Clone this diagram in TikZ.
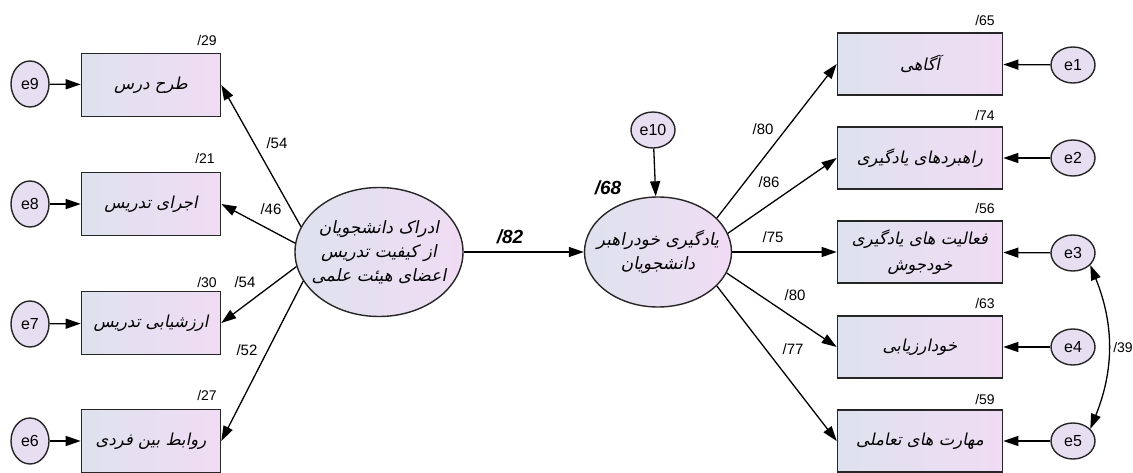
\documentclass[tikz,border=0pt]{standalone}
\usepackage{fontspec}
\setmainfont{Liberation Sans}
\TeXXeTstate=1
\newfontfamily\fafont[Script=Arabic,FakeSlant=0.2]{DejaVu Sans}
\usetikzlibrary{arrows.meta,shapes.geometric}
\newcommand\fa[1]{{\fafont\beginR #1\endR}}
\newcommand\slnum[1]{\mbox{/}\mbox{#1}}
\definecolor{boxL}{RGB}{222,226,238}
\definecolor{boxR}{RGB}{240,220,244}
\definecolor{efill}{RGB}{232,222,242}
\begin{document}
\begin{tikzpicture}[x=1pt,y=-1pt,
  ind/.style={rectangle, draw=black!85, line width=1.6pt, minimum width=139pt, minimum height=63pt,
    left color=boxL, right color=boxR, inner sep=0pt, align=center,
    font=\fontsize{16.5}{26}\selectfont},
  rind/.style={ind, minimum width=165pt, minimum height=62pt},
  errl/.style={ellipse, draw=black!85, line width=1.4pt, fill=efill, inner sep=0pt,
    minimum width=38pt, minimum height=46pt, font=\fontsize{16}{18}\selectfont},
  errr/.style={errl, minimum width=44pt, minimum height=36pt},
  lat/.style={ellipse, draw=black!85, line width=1.4pt, left color=boxL, right color=boxR,
    inner ysep=0pt, align=center, font=\fontsize{17}{24}\selectfont},
  dbl/.style={{Triangle[length=15pt,width=10pt]}-{Triangle[length=15pt,width=10pt]}, line width=1.3pt},
  arr/.style={-{Triangle[length=15pt,width=10pt]}, line width=1.3pt},
  coef/.style={font=\fontsize{15}{17}\selectfont},
  rsq/.style={font=\fontsize{14}{16}\selectfont},
  big/.style={font=\bfseries\itshape\fontsize{19}{21}\selectfont}
]
\useasboundingbox (0,0) rectangle (1133,473);

% left side
\node[ind] (b1) at (151,85)  {\fa{طرح درس}};
\node[ind] (b2) at (151,204) {\fa{اجرای تدریس}};
\node[ind] (b3) at (151,323) {\fa{ارزشیابی تدریس}};
\node[ind] (b4) at (151,441) {\fa{روابط بین فردی}};
\node[errl] (e9) at (30,84)  {e9};
\node[errl] (e8) at (30,204) {e8};
\node[errl] (e7) at (30,324) {e7};
\node[errl] (e6) at (30,441) {e6};
\foreach \e/\b in {e9/b1,e8/b2,e7/b3,e6/b4} \draw[arr] (\e) -- (\b);

\node[lat, inner xsep=-14pt, minimum width=168pt, minimum height=129pt] (L1) at (379,252)
  {\fa{ادراک دانشجویان}\\\fa{از کیفیت تدریس}\\\fa{اعضای هیئت علمی}};
\draw[arr] (L1.162) -- (b1.east);
\draw[arr] (L1.174) -- (b2.east);
\draw[arr] (L1.190) -- (b3.east);
\draw[arr] (L1.201) -- (b4.east);

\node[rsq] (r29) at (207,40)  {\slnum{29}};
\node[rsq] (r21) at (205,158) {\slnum{21}};
\node[rsq] (r30) at (207,282) {\slnum{30}};
\node[rsq] (r27) at (207,395) {\slnum{27}};
\node[coef] (c54a) at (277,143) {\slnum{54}};
\node[coef] (c46)  at (271,209) {\slnum{46}};
\node[coef] (c54b) at (245,282) {\slnum{54}};
\node[coef] (c52)  at (247,350) {\slnum{52}};

% middle
\node[lat, inner xsep=-20pt, minimum width=147pt, minimum height=110pt] (L2) at (658,252)
  {\fa{یادگیری خودراهبر}\\\fa{دانشجویان}};
\draw[arr] (L1.east) -- (L2.west);
\node[big] (c82) at (510,237) {\slnum{82}};
\node[errr] (e10) at (653,130) {e10};
\draw[arr] (e10) -- (L2);
\node[big] (c68) at (608,188) {\slnum{68}};

% right side
\node[rind] (d1) at (920,64)  {\fa{آگاهی}};
\node[rind] (d2) at (920,158) {\fa{راهبردهای یادگیری}};
\node[rind] (d3) at (920,252) {\fa{فعالیت های یادگیری}\\\fa{خودجوش}};
\node[rind] (d4) at (920,347) {\fa{خودارزیابی}};
\node[rind] (d5) at (920,441) {\fa{مهارت های تعاملی}};
\node[errr] (e1) at (1073,65)  {e1};
\node[errr] (e2) at (1073,158) {e2};
\node[errr] (e3) at (1073,253) {e3};
\node[errr] (e4) at (1073,347) {e4};
\node[errr] (e5) at (1073,441) {e5};
\foreach \e/\b in {e1/d1,e2/d2,e3/d3,e4/d4,e5/d5} \draw[arr] (\e) -- (\b);

\draw[arr] (L2.30) -- (d1.west);
\draw[arr] (L2.15) -- (d2.west);
\draw[arr] (L2.east) -- (d3.west);
\draw[arr] (L2.-17) -- (d4.west);
\draw[arr] (L2.-30) -- (d5.west);

\draw[dbl] (e3.-35) to[bend left=22] (e5.35);
\node[rsq] (c39) at (1123,347) {\slnum{39}};

\node[rsq] (r65) at (985,20)  {\slnum{65}};
\node[rsq] (r74) at (985,115) {\slnum{74}};
\node[rsq] (r56) at (985,208) {\slnum{56}};
\node[rsq] (r63) at (985,303) {\slnum{63}};
\node[rsq] (r59) at (985,399) {\slnum{59}};
\node[coef] (c80a) at (763,129) {\slnum{80}};
\node[coef] (c86)  at (769,182) {\slnum{86}};
\node[coef] (c75)  at (773,237) {\slnum{75}};
\node[coef] (c80b) at (795,295) {\slnum{80}};
\node[coef] (c77)  at (793,349) {\slnum{77}};
\end{tikzpicture}
\end{document}
